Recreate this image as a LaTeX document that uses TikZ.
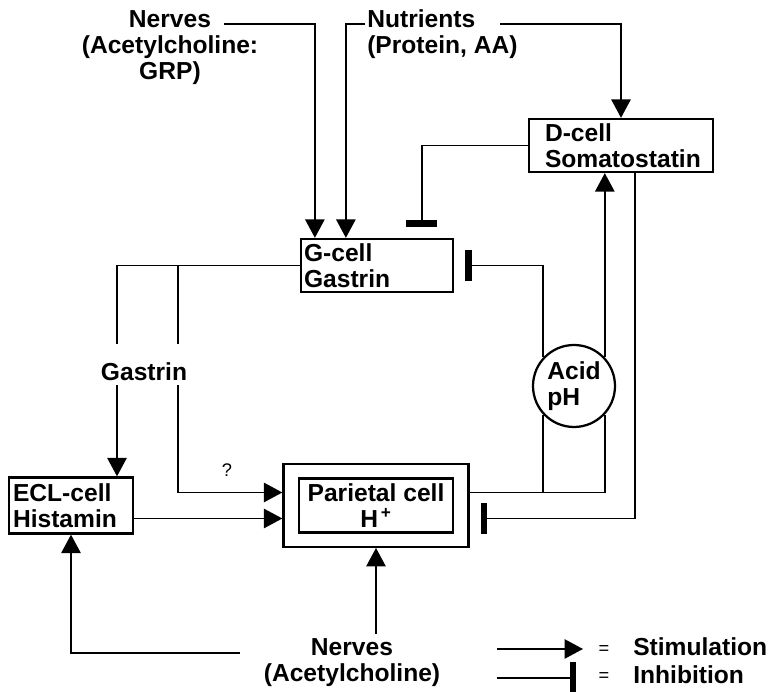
\documentclass[tikz,border=0pt]{standalone}
\usepackage{fontspec}
\setmainfont{Liberation Sans}
\usetikzlibrary{arrows.meta,calc,fit}

\begin{document}
\begin{tikzpicture}[>={Triangle[length=4.6mm,width=4.8mm]},font=\fontsize{17.5}{18.5}\selectfont\bfseries,
  cellbox/.style={draw,line width=1.6pt,align=left,inner ysep=0pt,minimum height=1.325cm},
  link/.style={line width=1.4pt},
  stim/.style={link,->},
  inhib/.style={link,-{Rectangle[length=1.6mm,width=7.8mm]},shorten >=2.8mm},
  smallmark/.style={font=\fontsize{13}{15}\selectfont\mdseries}]
\useasboundingbox (0,0) rectangle (19.4,17.3);
% cells
\node[cellbox,text width=3.65cm,inner xsep=0.075cm] (gcell) at (9.425,10.6625) {G-cell\\Gastrin};
\node[cellbox,text width=3.8cm,inner xsep=0.4cm] (dcell) at (15.525,13.6625) {D-cell\\Somatostatin};
\node[cellbox,text width=2.9cm,inner xsep=0.1cm,minimum height=1.4cm] (ecl) at (1.775,4.6625) {ECL-cell\\Histamin};
\node[cellbox,align=center,minimum width=3.85cm,minimum height=1.35cm] (parietal) at (9.4,4.6625) {Parietal cell\\H\textsuperscript{\,+}};
\node[draw,line width=1.6pt,fit=(parietal),inner xsep=0.36cm,inner ysep=0.33cm] (pcell) {};
\node[draw,circle,line width=1.6pt,fill=white,minimum size=2.05cm,inner sep=0pt,align=left] (acid) at (14.35,7.65) {Acid\\pH};
% inputs
\node[align=center] (nervesTop) at (4.25,16.12) {Nerves\\(Acetylcholine:\\GRP)};
\node[align=left,anchor=west,inner sep=0pt] (nutrients) at (9.175,16.44) {Nutrients\\(Protein, AA)};
\node[align=center] (nervesBot) at (8.8,0.725) {Nerves\\(Acetylcholine)};
\node[smallmark] (query) at (5.675,5.55) {?};
\coordinate (nvA) at (5.6,16.7);
\coordinate (ntA) at (9.125,16.7);
\coordinate (ntB) at (12.5,16.7);
\coordinate (gbr) at (4.45,10.6625);
\coordinate (nbA) at (6.0,0.975);
\coordinate (pout) at ($(pcell.east)+(0,0.325)$);
% connections
\draw[stim] (nvA) -| ($(gcell.north west)+(0.375,0)$);
\draw[stim] (ntA) -| ($(gcell.north west)+(1.15,0)$);
\draw[stim] (ntB) -| (dcell.north);
\draw[inhib] (dcell.west) -| ($(gcell.north west)+(3.05,0)$);
\draw[stim] (gcell.west) -| ($(ecl.north)+(1.15,0)$);
\draw[stim] (gbr) |- ($(pcell.west)+(0,0.325)$);
\draw[stim] ($(ecl.east)+(0,-0.325)$) -- ($(pcell.west)+(0,-0.325)$);
\draw[link] (pout) -| (acid.-43);
\draw[link] (acid.-137) -- (acid.-137 |- pout);
\draw[stim] (acid.43) -- (acid.43 |- dcell.south);
\draw[inhib] (acid.137) |- (gcell.east);
\draw[inhib] ($(dcell.south)+(0.35,0)$) |- ($(pcell.east)+(0,-0.325)$);
\draw[stim] (nbA) -| (ecl.south);
\draw[stim] (nervesBot.north -| pcell.south) -- (pcell.south);
\node[fill=white,inner sep=0pt,text height=0.925cm,text depth=0.1cm,anchor=base] (gastrin) at (3.6,7.775) {Gastrin};
% key
\coordinate (lgA) at (12.425,1.075);
\coordinate (lgB) at (14.575,1.075);
\coordinate (lgC) at (12.425,0.35);
\coordinate (lgD) at (14.4,0.35);
\draw[stim] (lgA) -- (lgB);
\draw[inhib,shorten >=0pt] (lgC) -- (lgD);
\node[smallmark] (eqStim) at (15.1,1.05) {=};
\node[smallmark] (eqInhib) at (15.1,0.375) {=};
\node[anchor=west,inner sep=0pt] (stimText) at (15.825,1.125) {Stimulation};
\node[anchor=west,inner sep=0pt] (inhibText) at (15.825,0.425) {Inhibition};
\end{tikzpicture}
\end{document}
